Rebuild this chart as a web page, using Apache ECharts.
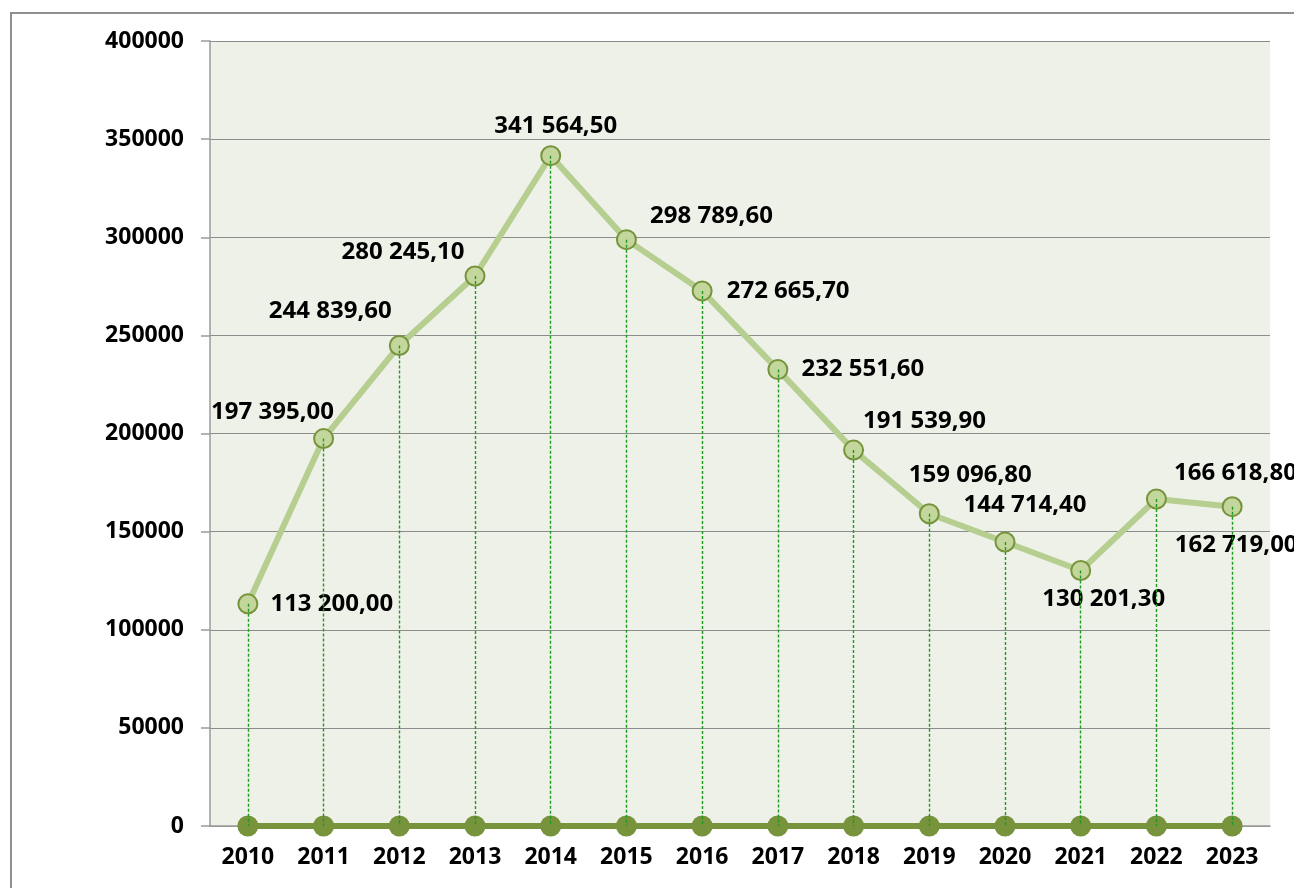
<!DOCTYPE html>
<html>
<head>
<meta charset="utf-8">
<script src="https://cdn.jsdelivr.net/npm/echarts@6/dist/echarts.min.js"></script>
<style>
  html, body { margin: 0; padding: 0; background: #fff; }
  #frame { position: absolute; left: 10px; top: 12px; width: 1400px; height: 1000px;
           border-top: 2px solid #8f8f8f; border-left: 2px solid #8f8f8f; }
  #main { position: absolute; left: 0; top: 0; width: 1294px; height: 888px; }
</style>
</head>
<body>
<div id="frame"></div>
<div id="main"></div>
<script>
    'use strict'

    /* Chart data */
    var years = ['2010', '2011', '2012', '2013', '2014', '2015', '2016',
                 '2017', '2018', '2019', '2020', '2021', '2022', '2023'];
    var values = [113200.00, 197395.00, 244839.60, 280245.10, 341564.50, 298789.60, 272665.70,
                  232551.60, 191539.90, 159096.80, 144714.40, 130201.30, 166618.80, 162719.00];
    var baseline = [0, 0, 0, 0, 0, 0, 0, 0, 0, 0, 0, 0, 0, 0];
    var yMin = 0, yMax = 400000, yStep = 50000;

    /* label offsets from each point (px) */
    var labelOffsets = [
        [84, 0], [-51, -26], [-69, -34], [-72, -24], [5, -30], [85, -23], [86, 0],
        [85, 0], [71, -29], [41, -39], [20, -37], [23, 29], [79, -26], [4, 38]
    ];

    function fmt(v) {
        var parts = v.toFixed(2).split('.');
        return parts[0].replace(/\B(?=(\d{3})+(?!\d))/g, ' ') + ',' + parts[1];
    }

    var font = '"Noto Sans", sans-serif';
    var dropStyle = { color: '#1f9a1f', width: 1.4, type: [3, 2], opacity: 1 };

    var chart = echarts.init(document.getElementById('main'));

    chart.setOption({
        animation: false,
        grid: {
            left: 210, right: 24, top: 41, bottom: 62,
            show: true,
            backgroundColor: '#eef1e8',
            borderWidth: 0
        },
        xAxis: {
            type: 'category',
            data: years,
            boundaryGap: true,
            axisLine: { lineStyle: { color: '#9a9a9a', width: 1.5 } },
            axisTick: { show: false },
            axisLabel: {
                margin: 20,
                fontSize: 23,
                fontWeight: 'bold',
                fontFamily: font,
                color: '#000'
            }
        },
        yAxis: {
            type: 'value',
            min: yMin,
            max: yMax,
            interval: yStep,
            axisLine: { show: true, lineStyle: { color: '#9a9a9a', width: 1.5 } },
            axisTick: { show: true, length: 9, lineStyle: { color: '#9a9a9a', width: 1.5 } },
            splitLine: { lineStyle: { color: '#8c8c8c', width: 1 } },
            axisLabel: {
                margin: 26,
                fontSize: 23,
                fontWeight: 'bold',
                fontFamily: font,
                color: '#000',
                formatter: function (v) { return String(v); }
            }
        },
        series: [
            {
                name: 'base',
                type: 'line',
                data: baseline,
                symbol: 'circle',
                symbolSize: 21,
                lineStyle: { color: '#77933c', width: 6 },
                itemStyle: { color: '#77933c' },
                z: 2
            },
            {
                name: 'values',
                type: 'line',
                data: values.map(function (v, i) {
                    return { value: v, label: { offset: labelOffsets[i] } };
                }),
                symbol: 'circle',
                symbolSize: 19,
                lineStyle: { color: '#b6ce90', width: 6 },
                itemStyle: { color: '#c3d69b', borderColor: '#77933c', borderWidth: 2 },
                label: {
                    show: true,
                    position: 'inside',
                    align: 'center',
                    verticalAlign: 'middle',
                    fontSize: 24,
                    fontWeight: 'bold',
                    fontFamily: font,
                    color: '#000',
                    formatter: function (p) { return fmt(p.value); }
                },
                markLine: {
                    silent: true,
                    symbol: 'none',
                    label: { show: false },
                    emphasis: { disabled: true },
                    lineStyle: dropStyle,
                    data: values.map(function (v, i) {
                        return [
                            { coord: [years[i], v], lineStyle: dropStyle },
                            { coord: [years[i], 0] }
                        ];
                    })
                },
                z: 3
            }
        ]
    });
</script>
</body>
</html>
